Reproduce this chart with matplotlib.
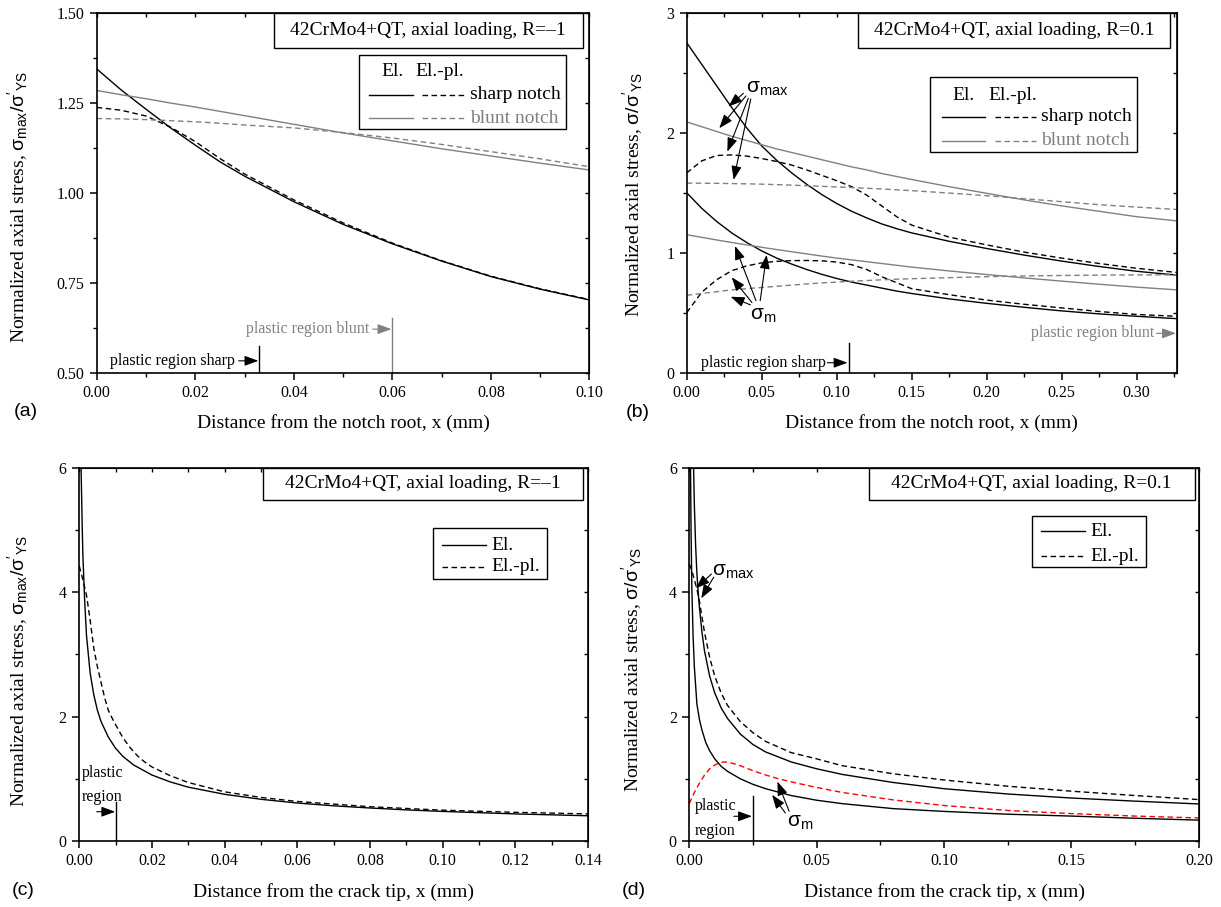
import matplotlib
matplotlib.use("Agg")
import matplotlib.pyplot as plt
from matplotlib.patches import Rectangle
from matplotlib.ticker import MultipleLocator, FormatStrFormatter

plt.rcParams["font.family"] = ["Liberation Serif", "DejaVu Serif"]
plt.rcParams["mathtext.fontset"] = "custom"
plt.rcParams["mathtext.rm"] = "Liberation Sans"
plt.rcParams["mathtext.sf"] = "Liberation Sans"
plt.rcParams["mathtext.it"] = "Liberation Sans:italic"
plt.rcParams["mathtext.bf"] = "Liberation Sans:bold"

GRAY = "#808080"
DASH = (0, (4, 2.5))

TITLE_RM1 = "42CrMo4+QT, axial loading, R=\u20131"
TITLE_R01 = "42CrMo4+QT, axial loading, R=0.1"
YLAB_MAX = r"Normalized axial stress, $\mathrm{\sigma_{max}/\sigma'{}_{YS}}$"
YLAB_SIG = r"Normalized axial stress, $\mathrm{\sigma/\sigma'{}_{YS}}$"
XLAB_NOTCH = "Distance from the notch root, x (mm)"
XLAB_CRACK = "Distance from the crack tip, x (mm)"

# ---- (a) notches, R=-1, sigma_max
a_x = [0, 0.005, 0.01, 0.015, 0.02, 0.025, 0.03, 0.04, 0.05, 0.06, 0.07, 0.08, 0.09, 0.10]
a_sharp_el = [1.344, 1.285, 1.232, 1.180, 1.132, 1.086, 1.046, 0.975, 0.912, 0.858, 0.810, 0.767, 0.732, 0.702]
a_sharp_ep = [1.237, 1.229, 1.213, 1.182, 1.142, 1.095, 1.052, 0.980, 0.916, 0.860, 0.811, 0.768, 0.733, 0.703]
a_blunt_el = [1.284, 1.272, 1.261, 1.249, 1.238, 1.226, 1.214, 1.190, 1.166, 1.144, 1.122, 1.102, 1.082, 1.063]
a_blunt_ep = [1.206, 1.205, 1.203, 1.200, 1.197, 1.193, 1.188, 1.180, 1.167, 1.152, 1.134, 1.114, 1.094, 1.072]

# ---- (b) notches, R=0.1, sigma_max and sigma_m
b_x = [0, 0.01, 0.02, 0.03, 0.04, 0.05, 0.06, 0.07, 0.08, 0.09, 0.10, 0.11, 0.12,
       0.13, 0.14, 0.15, 0.175, 0.20, 0.225, 0.25, 0.275, 0.30, 0.327]
b_max_sharp_el = [2.75, 2.57, 2.39, 2.21, 2.04, 1.89, 1.77, 1.665, 1.57, 1.485, 1.41, 1.345, 1.29,
                  1.24, 1.20, 1.165, 1.095, 1.035, 0.98, 0.93, 0.885, 0.845, 0.813]
b_max_sharp_ep = [1.665, 1.765, 1.81, 1.815, 1.805, 1.785, 1.76, 1.73, 1.69, 1.645, 1.60, 1.55, 1.48,
                  1.39, 1.30, 1.23, 1.13, 1.065, 1.005, 0.955, 0.91, 0.87, 0.835]
b_max_blunt_el = [2.09, 2.05, 2.01, 1.97, 1.935, 1.90, 1.865, 1.835, 1.805, 1.775, 1.745, 1.715, 1.69,
                  1.66, 1.635, 1.61, 1.55, 1.495, 1.44, 1.39, 1.345, 1.30, 1.265]
b_max_blunt_ep = [1.58, 1.579, 1.578, 1.576, 1.574, 1.571, 1.567, 1.563, 1.558, 1.553, 1.548, 1.543, 1.537,
                  1.531, 1.524, 1.517, 1.497, 1.475, 1.45, 1.425, 1.40, 1.38, 1.36]
b_m_sharp_el = [1.50, 1.37, 1.26, 1.165, 1.085, 1.015, 0.955, 0.905, 0.86, 0.82, 0.785, 0.755, 0.73,
                0.705, 0.68, 0.66, 0.615, 0.578, 0.545, 0.515, 0.49, 0.47, 0.45]
b_m_sharp_ep = [0.50, 0.67, 0.775, 0.85, 0.89, 0.915, 0.928, 0.934, 0.935, 0.932, 0.922, 0.90, 0.86,
                0.80, 0.75, 0.70, 0.65, 0.605, 0.57, 0.54, 0.51, 0.485, 0.47]
b_m_blunt_el = [1.15, 1.128, 1.106, 1.085, 1.065, 1.045, 1.026, 1.008, 0.99, 0.972, 0.955, 0.94, 0.925,
                0.91, 0.895, 0.88, 0.848, 0.818, 0.79, 0.763, 0.737, 0.713, 0.69]
b_m_blunt_ep = [0.645, 0.66, 0.675, 0.69, 0.70, 0.71, 0.72, 0.73, 0.74, 0.748, 0.755, 0.762, 0.768,
                0.774, 0.779, 0.783, 0.792, 0.80, 0.806, 0.81, 0.813, 0.815, 0.815]

# ---- (c) crack, R=-1
c_el_x = [0.0005, 0.0008, 0.001, 0.0015, 0.002, 0.003, 0.004, 0.005, 0.006, 0.008, 0.010, 0.012, 0.015,
          0.02, 0.025, 0.03, 0.04, 0.05, 0.06, 0.07, 0.08, 0.09, 0.10, 0.11, 0.12, 0.13, 0.14]
c_el_y = [6.0, 5.1, 4.6, 3.85, 3.3, 2.7, 2.35, 2.1, 1.92, 1.67, 1.49, 1.36, 1.22,
          1.06, 0.95, 0.865, 0.75, 0.67, 0.61, 0.565, 0.53, 0.50, 0.475, 0.455, 0.435, 0.42, 0.405]
c_ep_x = [0, 0.001, 0.002, 0.003, 0.004, 0.005, 0.006, 0.007, 0.008, 0.009, 0.010, 0.012, 0.014, 0.016,
          0.018, 0.02, 0.025, 0.03, 0.04, 0.05, 0.06, 0.08, 0.10, 0.12, 0.14]
c_ep_y = [4.42, 4.2, 3.95, 3.55, 3.1, 2.8, 2.55, 2.3, 2.1, 1.98, 1.87, 1.66, 1.5, 1.37,
          1.27, 1.19, 1.05, 0.94, 0.79, 0.70, 0.635, 0.55, 0.495, 0.46, 0.435]

# ---- (d) crack, R=0.1
d_max_el_x = [0.0017, 0.002, 0.0025, 0.003, 0.0035, 0.004, 0.005, 0.006, 0.008, 0.010, 0.0125, 0.015,
              0.02, 0.025, 0.03, 0.04, 0.05, 0.06, 0.08, 0.10, 0.125, 0.15, 0.175, 0.20]
d_max_el_y = [6.0, 5.4, 4.75, 4.3, 4.0, 3.75, 3.35, 3.05, 2.65, 2.38, 2.14, 1.97,
              1.72, 1.55, 1.43, 1.27, 1.16, 1.07, 0.94, 0.84, 0.755, 0.69, 0.64, 0.595]
d_max_ep_x = [0, 0.001, 0.002, 0.003, 0.004, 0.005, 0.006, 0.008, 0.010, 0.0125, 0.015, 0.02,
              0.025, 0.03, 0.04, 0.05, 0.06, 0.08, 0.10, 0.125, 0.15, 0.175, 0.20]
d_max_ep_y = [4.45, 4.35, 4.2, 4.05, 3.85, 3.6, 3.35, 2.95, 2.65, 2.38, 2.18, 1.92,
              1.74, 1.6, 1.42, 1.32, 1.21, 1.08, 0.98, 0.88, 0.80, 0.73, 0.665]
d_m_el_x = [0.0005, 0.0007, 0.001, 0.0015, 0.002, 0.003, 0.004, 0.005, 0.0065, 0.008, 0.010, 0.0125,
            0.015, 0.02, 0.025, 0.03, 0.04, 0.05, 0.06, 0.08, 0.10, 0.125, 0.15, 0.175, 0.20]
d_m_el_y = [6.0, 5.0, 4.1, 3.3, 2.8, 2.2, 1.95, 1.78, 1.58, 1.45, 1.32, 1.2,
            1.12, 1.0, 0.91, 0.84, 0.73, 0.655, 0.6, 0.52, 0.475, 0.43, 0.4, 0.365, 0.335]
d_m_ep_x = [0, 0.002, 0.004, 0.006, 0.008, 0.010, 0.012, 0.014, 0.016, 0.02, 0.025, 0.03, 0.035,
            0.04, 0.05, 0.06, 0.08, 0.10, 0.125, 0.15, 0.175, 0.20]
d_m_ep_y = [0.6, 0.78, 0.93, 1.06, 1.16, 1.22, 1.26, 1.27, 1.26, 1.21, 1.13, 1.06, 1.0,
            0.95, 0.86, 0.78, 0.66, 0.57, 0.49, 0.44, 0.40, 0.37]


fig = plt.figure(figsize=(12.21, 9.07), dpi=100)


def setup(rect, xlim, ylim, xmaj, xmin, ymaj, ymin, xfmt, yfmt):
    ax = fig.add_axes(rect)
    ax.set_xlim(*xlim)
    ax.set_ylim(*ylim)
    for axis, mj, mn, fm in ((ax.xaxis, xmaj, xmin, xfmt), (ax.yaxis, ymaj, ymin, yfmt)):
        axis.set_major_locator(MultipleLocator(mj))
        axis.set_minor_locator(MultipleLocator(mn))
        axis.set_major_formatter(FormatStrFormatter(fm))
    ax.tick_params(which="major", direction="out", length=5, width=1.1, labelsize=11.5, pad=4)
    ax.tick_params(which="minor", direction="out", length=3, width=1.0)
    for s in ax.spines.values():
        s.set_linewidth(1.2)
    top = ax.secondary_xaxis("top")
    top.xaxis.set_major_locator(MultipleLocator(xmaj))
    top.xaxis.set_minor_locator(MultipleLocator(xmin))
    top.tick_params(which="both", direction="in", length=3, width=1.0, labeltop=False)
    right = ax.secondary_yaxis("right")
    right.yaxis.set_major_locator(MultipleLocator(ymaj))
    right.yaxis.set_minor_locator(MultipleLocator(ymin))
    right.tick_params(which="both", direction="in", length=3, width=1.0, labelright=False)
    return ax


def title_box(ax, x0, x1, y0, text):
    ax.add_patch(Rectangle((x0, y0), x1 - x0, 1 - y0, transform=ax.transAxes,
                           fc="white", ec="black", lw=1.0, zorder=5, clip_on=False))
    ax.text((x0 + x1) / 2, (y0 + 1) / 2, text, transform=ax.transAxes, ha="center",
            va="center", fontsize=14, zorder=6)


def frame(ax, x0, y0, w, h):
    ax.add_patch(Rectangle((x0, y0), w, h, transform=ax.transAxes, fc="white",
                           ec="black", lw=1.0, zorder=5))


def sample(ax, x0, x1, y, color, ls):
    ax.plot([x0, x1], [y, y], transform=ax.transAxes, color=color, ls=ls, lw=1.0, zorder=6)


def notch_legend(ax, box, hx, hy, rows, solid, dashed, tx):
    frame(ax, *box)
    ax.text(hx[0], hy, "El.", transform=ax.transAxes, fontsize=14, va="center", zorder=6)
    ax.text(hx[1], hy, "El.-pl.", transform=ax.transAxes, fontsize=14, va="center", zorder=6)
    for y, col, lab in zip(rows, ["black", GRAY], ["sharp notch", "blunt notch"]):
        sample(ax, solid[0], solid[1], y, col, "-")
        sample(ax, dashed[0], dashed[1], y, col, DASH)
        ax.text(tx, y, lab, transform=ax.transAxes, fontsize=14, color=col, va="center", zorder=6)


def crack_legend(ax, box, rows, line, tx):
    frame(ax, *box)
    for y, ls, lab in zip(rows, ["-", DASH], ["El.", "El.-pl."]):
        sample(ax, line[0], line[1], y, "black", ls)
        ax.text(tx, y, lab, transform=ax.transAxes, fontsize=14, va="center", zorder=6)


def arrow(ax, tail, tip, color="black"):
    ax.annotate("", xy=tip, xytext=tail,
                arrowprops=dict(arrowstyle="-|>,head_length=0.6,head_width=0.22", color=color,
                                lw=0.8, mutation_scale=14, shrinkA=0, shrinkB=0))


LW = 1.0

# ---------------- (a)
ax = setup([0.0792, 0.5891, 0.4036, 0.3969], (0, 0.10), (0.5, 1.5), 0.02, 0.01, 0.25, 0.125, "%.2f", "%.2f")
ax.plot(a_x, a_sharp_el, color="black", lw=LW)
ax.plot(a_x, a_sharp_ep, color="black", lw=LW, ls=DASH)
ax.plot(a_x, a_blunt_el, color=GRAY, lw=LW)
ax.plot(a_x, a_blunt_ep, color=GRAY, lw=LW, ls=DASH)
title_box(ax, 0.360, 0.986, 0.903, TITLE_RM1)
notch_legend(ax, (0.533, 0.678, 0.42, 0.204), (0.577, 0.647), 0.836, (0.772, 0.707),
             (0.553, 0.642), (0.660, 0.746), 0.757)
ax.plot([0.033, 0.033], [0.5, 0.575], color="black", lw=LW)
ax.text(0.0281, 0.533, "plastic region sharp", ha="right", va="center", fontsize=11.5)
arrow(ax, (0.0288, 0.533), (0.0328, 0.533))
ax.plot([0.06, 0.06], [0.5, 0.653], color=GRAY, lw=LW)
ax.text(0.0553, 0.621, "plastic region blunt", ha="right", va="center", fontsize=11.5, color=GRAY)
arrow(ax, (0.0560, 0.621), (0.0598, 0.621), GRAY)

# ---------------- (b)
ax = setup([0.5624, 0.5891, 0.4013, 0.3969], (0, 0.3267), (0, 3), 0.05, 0.025, 1, 0.5, "%.2f", "%d")
ax.plot(b_x, b_max_sharp_el, color="black", lw=LW)
ax.plot(b_x, b_max_sharp_ep, color="black", lw=LW, ls=DASH)
ax.plot(b_x, b_max_blunt_el, color=GRAY, lw=LW)
ax.plot(b_x, b_max_blunt_ep, color=GRAY, lw=LW, ls=DASH)
ax.plot(b_x, b_m_sharp_el, color="black", lw=LW)
ax.plot(b_x, b_m_sharp_ep, color="black", lw=LW, ls=DASH)
ax.plot(b_x, b_m_blunt_el, color=GRAY, lw=LW)
ax.plot(b_x, b_m_blunt_ep, color=GRAY, lw=LW, ls=DASH)
title_box(ax, 0.349, 0.986, 0.903, TITLE_R01)
notch_legend(ax, (0.497, 0.614, 0.422, 0.206), (0.543, 0.615), 0.771, (0.711, 0.644),
             (0.521, 0.609), (0.630, 0.712), 0.724)
ax.text(0.0395, 2.37, r"$\mathrm{\sigma_{max}}$", fontsize=15, ha="left", va="center")
for tail, tip in [((0.0378, 2.328), (0.0278, 2.217)), ((0.0395, 2.306), (0.0217, 2.037)),
                  ((0.0411, 2.287), (0.0271, 1.842)), ((0.0427, 2.281), (0.0313, 1.607))]:
    arrow(ax, tail, tip)
ax.text(0.0425, 0.48, r"$\mathrm{\sigma_{m}}$", fontsize=15, ha="left", va="center")
for tail, tip in [((0.0462, 0.600), (0.0322, 1.056)), ((0.0435, 0.585), (0.0300, 0.795)),
                  ((0.0425, 0.565), (0.0293, 0.633)), ((0.0490, 0.600), (0.0533, 0.981))]:
    arrow(ax, tail, tip)
ax.plot([0.108, 0.108], [0, 0.244], color="black", lw=LW)
ax.text(0.0930, 0.083, "plastic region sharp", ha="right", va="center", fontsize=11.5)
arrow(ax, (0.0938, 0.083), (0.1072, 0.083))
ax.text(0.3120, 0.328, "plastic region blunt", ha="right", va="center", fontsize=11.5, color=GRAY)
arrow(ax, (0.3132, 0.328), (0.3262, 0.328), GRAY)

# ---------------- (c)
ax = setup([0.0649, 0.0728, 0.4166, 0.4116], (0, 0.14), (0, 6), 0.02, 0.01, 2, 1, "%.2f", "%d")
ax.plot(c_el_x, c_el_y, color="black", lw=LW)
ax.plot(c_ep_x, c_ep_y, color="black", lw=LW, ls=DASH)
title_box(ax, 0.361, 0.991, 0.913, TITLE_RM1)
crack_legend(ax, (0.696, 0.703, 0.224, 0.135), (0.792, 0.734), (0.713, 0.800), 0.810)
ax.text(0.0007, 1.09, "plastic", ha="left", va="center", fontsize=11.5)
ax.text(0.0007, 0.70, "region", ha="left", va="center", fontsize=11.5)
ax.plot([0.01, 0.01], [0, 0.63], color="black", lw=LW)
arrow(ax, (0.0048, 0.47), (0.0099, 0.47))

# ---------------- (d)
ax = setup([0.5645, 0.0728, 0.4174, 0.4116], (0, 0.20), (0, 6), 0.05, 0.025, 2, 1, "%.2f", "%d")
ax.plot(d_max_el_x, d_max_el_y, color="black", lw=LW)
ax.plot(d_max_ep_x, d_max_ep_y, color="black", lw=LW, ls=DASH)
ax.plot(d_m_el_x, d_m_el_y, color="black", lw=LW)
ax.plot(d_m_ep_x, d_m_ep_y, color="red", lw=LW, ls=DASH)
title_box(ax, 0.352, 0.992, 0.913, TITLE_R01)
crack_legend(ax, (0.673, 0.734, 0.223, 0.136), (0.830, 0.762), (0.690, 0.777), 0.787)
ax.text(0.0090, 4.33, r"$\mathrm{\sigma_{max}}$", fontsize=15, ha="left", va="center")
arrow(ax, (0.0087, 4.29), (0.0026, 4.06))
arrow(ax, (0.0096, 4.24), (0.0047, 3.90))
ax.text(0.0385, 0.30, r"$\mathrm{\sigma_{m}}$", fontsize=15, ha="left", va="center")
arrow(ax, (0.0392, 0.477), (0.0346, 0.955))
arrow(ax, (0.0377, 0.450), (0.0325, 0.742))
ax.text(0.0020, 0.556, "plastic", ha="left", va="center", fontsize=11.5)
ax.text(0.0020, 0.158, "region", ha="left", va="center", fontsize=11.5)
ax.plot([0.025, 0.025], [0, 0.716], color="black", lw=LW)
arrow(ax, (0.0175, 0.397), (0.0246, 0.397))

# ---------------- shared labels
for x, y, s in [(0.2809, 0.5336, XLAB_NOTCH), (0.7631, 0.5336, XLAB_NOTCH),
                (0.2733, 0.0165, XLAB_CRACK), (0.7732, 0.0165, XLAB_CRACK)]:
    fig.text(x, y, s, ha="center", va="center", fontsize=14)
for x, y, s in [(0.0144, 0.772, YLAB_MAX), (0.5184, 0.786, YLAB_SIG),
                (0.0143, 0.260, YLAB_MAX), (0.5170, 0.262, YLAB_SIG)]:
    fig.text(x, y, s, ha="center", va="center", fontsize=14, rotation=90)
for x, y, s in [(0.0213, 0.5458, "(a)"), (0.5225, 0.5447, "(b)"),
                (0.0188, 0.0187, "(c)"), (0.5193, 0.0182, "(d)")]:
    fig.text(x, y, s, ha="center", va="center", fontsize=14, family="Liberation Sans")

fig.savefig("out.png", dpi=100)
